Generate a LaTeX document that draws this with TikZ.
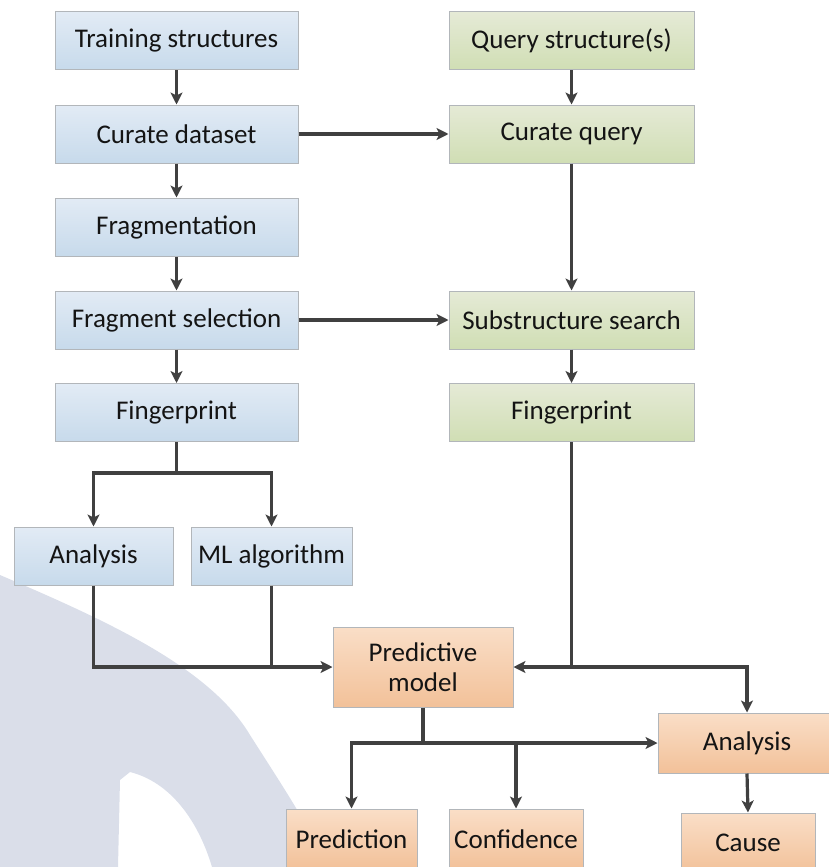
\documentclass[tikz,border=0pt]{standalone}
\usepackage{fontspec}
\setmainfont{Carlito}
\usetikzlibrary{arrows.meta}
\definecolor{bluetop}{RGB}{226,235,245}
\definecolor{bluebot}{RGB}{199,218,235}
\definecolor{greentop}{RGB}{229,234,214}
\definecolor{greenbot}{RGB}{208,222,180}
\definecolor{orangetop}{RGB}{250,222,199}
\definecolor{orangebot}{RGB}{242,193,153}
\definecolor{boxline}{RGB}{178,182,186}
\definecolor{arrowcol}{RGB}{64,64,64}
\definecolor{txt}{RGB}{20,20,20}
\definecolor{wm}{RGB}{218,222,233}
\tikzset{
  box/.style={draw=boxline, line width=1pt, inner sep=0pt, text=txt,
    font=\fontsize{27}{32}\selectfont, align=center},
  bluebox/.style={box, top color=bluetop, bottom color=bluebot},
  greenbox/.style={box, top color=greentop, bottom color=greenbot},
  orangebox/.style={box, top color=orangetop, bottom color=orangebot},
  conn/.style={draw=arrowcol, line width=3.2pt},
  arr/.style={conn, -{Stealth[length=12pt,width=12pt,inset=3pt]}},
}
\begin{document}
\begin{tikzpicture}[x=1pt,y=-1pt]
\useasboundingbox (0,0) rectangle (828,867);
% watermark
\fill[wm] (0,575) .. controls (110,622) and (210,668) .. (250,735)
  .. controls (285,790) and (312,830) .. (326,867) -- (212,867)
  .. controls (198,820) and (170,782) .. (130,772) -- (120,780) -- (118,867)
  -- (0,867) -- cycle;
% left column
\node[bluebox, minimum width=243pt, minimum height=58pt] (ts) at (176.5,41) {Training structures};
\node[bluebox, minimum width=243pt, minimum height=58pt] (cd) at (176.5,134) {Curate dataset};
\node[bluebox, minimum width=243pt, minimum height=58pt] (fr) at (176.5,227) {Fragmentation};
\node[bluebox, minimum width=243pt, minimum height=58pt] (fs) at (176.5,320) {Fragment selection};
\node[bluebox, minimum width=243pt, minimum height=58pt] (fpl) at (176.5,412.5) {Fingerprint};
\node[bluebox, minimum width=159pt, minimum height=58pt] (anl) at (93.5,556) {Analysis};
\node[bluebox, minimum width=161pt, minimum height=58pt] (ml) at (271.5,556) {ML algorithm};
% right column
\node[greenbox, minimum width=245pt, minimum height=58pt] (qs) at (571.5,41) {Query structure(s)};
\node[greenbox, minimum width=245pt, minimum height=58pt] (cq) at (571.5,134) {Curate query};
\node[greenbox, minimum width=245pt, minimum height=58pt] (ss) at (571.5,320) {Substructure search};
\node[greenbox, minimum width=245pt, minimum height=58pt] (fpr) at (571.5,412.5) {Fingerprint};
% bottom
\node[orangebox, minimum width=180pt, minimum height=80pt] (pm) at (423,667) {Predictive\\[-2pt]model};
\node[orangebox, minimum width=178pt, minimum height=60pt] (anr) at (747,743) {Analysis};
\node[orangebox, minimum width=131pt, minimum height=60pt] (pred) at (351.5,839) {Prediction};
\node[orangebox, minimum width=134pt, minimum height=60pt] (conf) at (516,839) {Confidence};
\node[orangebox, minimum width=134pt, minimum height=60pt] (cause) at (748,843) {Cause};
% connectors
\draw[arr] (ts) -- (cd);
\draw[arr] (cd) -- (fr);
\draw[arr] (fr) -- (fs);
\draw[arr] (fs) -- (fpl);
\draw[arr] (cd) -- (cq);
\draw[arr] (fs) -- (ss);
\draw[arr] (qs) -- (cq);
\draw[arr] (cq) -- (ss);
\draw[arr] (ss) -- (fpr);
\coordinate (j1) at (176.5,473);
\draw[conn] (fpl.south) -- (j1);
\draw[arr] (j1) -| (anl.north);
\draw[arr] (j1) -| (ml.north);
\draw[arr] (anl.south) |- (pm.west);
\draw[conn] (ml.south) -- (ml.south |- pm.west);
\draw[arr] (fpr.south) |- (pm.east);
\draw[arr] (fpr.south |- pm.east) -| (anr.north);
\coordinate (j2) at (pm.south |- anr.west);
\draw[conn] (pm.south) -- (j2);
\draw[arr] (j2) -| (pred.north);
\draw[arr] (j2) -- (anr.west);
\draw[arr] (conf.north |- anr.west) -- (conf.north);
\draw[arr] (anr.south) -- (cause.north);
\end{tikzpicture}
\end{document}
